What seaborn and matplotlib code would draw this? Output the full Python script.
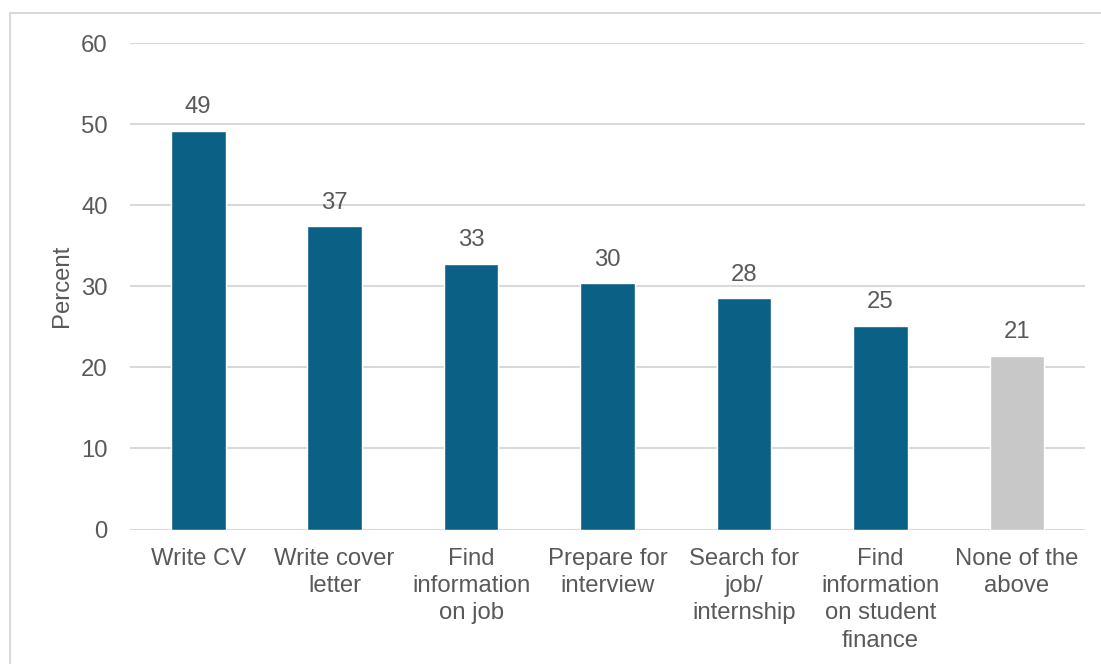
import matplotlib.pyplot as plt
import matplotlib.patches as patches
import seaborn as sns

categories = ["Write CV", "Write cover\nletter", "Find\ninformation\non job",
              "Prepare for\ninterview", "Search for\njob/\ninternship",
              "Find\ninformation\non student\nfinance", "None of the\nabove"]
values = [49.2, 37.4, 32.8, 30.4, 28.5, 25.1, 21.4]
value_labels = ["49", "37", "33", "30", "28", "25", "21"]
bar_colors = ["#0B6086"] * 6 + ["#C8C8C8"]

sns.set_style("white")
plt.rcParams['font.family'] = ['Liberation Sans', 'DejaVu Sans']
text_color = "#595959"
fs = 17.2

fig = plt.figure(figsize=(11.01, 6.64), dpi=100)
ax = fig.add_axes([130 / 1101, 1 - 529.5 / 664, 955 / 1101, (529.5 - 43) / 664])

sns.barplot(x=categories, y=values, hue=categories, palette=bar_colors,
            legend=False, width=0.4, saturation=1, ax=ax)

# labels as printed on the bars
for i, cont in enumerate(ax.containers):
    ax.bar_label(cont, labels=[value_labels[i]], padding=9,
                 fontsize=fs, color=text_color)

ax.set_ylim(0, 60)
ax.set_yticks(range(0, 61, 10))
ax.set_xticks(range(len(categories)), categories, linespacing=1.32)
ax.set_xlim(-0.5, len(categories) - 0.5)
ax.yaxis.grid(True, color="#D9D9D9", linewidth=1.5)
ax.set_axisbelow(True)
for s in ax.spines.values():
    s.set_visible(False)
ax.tick_params(axis="both", length=0, labelsize=fs, labelcolor=text_color)
ax.tick_params(axis="y", pad=16)
ax.tick_params(axis="x", pad=13)
ax.set_ylabel("Percent", fontsize=fs, color=text_color, labelpad=6)
ax.set_xlabel("")

# light border round the chart area
fig.patches.append(patches.Rectangle((10 / 1101, -0.1), 1.2, 1.1 - 13 / 664,
                                     transform=fig.transFigure, fill=False,
                                     edgecolor="#D9D9D9", linewidth=1.5))

plt.savefig("out.png", dpi=100)
